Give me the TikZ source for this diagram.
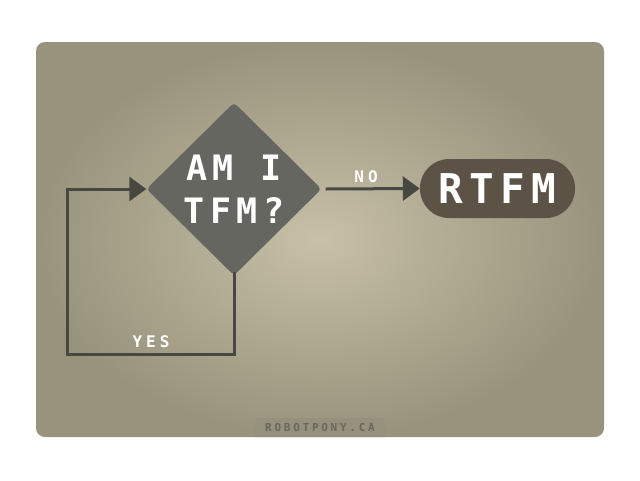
\documentclass[tikz,border=0pt]{standalone}
\usepackage{fontspec}
\usetikzlibrary{shapes.geometric,arrows.meta}
\newfontfamily\pixfont[LetterSpace=16]{DejaVu Sans Mono Bold}
\newfontfamily\pixsmall[LetterSpace=25]{DejaVu Sans Mono Bold}
\definecolor{cardin}{RGB}{200,192,167}
\definecolor{cardout}{RGB}{152,147,125}
\definecolor{diam}{RGB}{102,102,96}
\definecolor{rtfm}{RGB}{92,82,70}
\definecolor{linec}{RGB}{72,72,66}
\definecolor{wmbox}{RGB}{150,145,124}
\definecolor{wmtext}{RGB}{105,103,92}
\tikzset{
  conn/.style={draw=linec, line width=3pt},
  tip/.style={-{Triangle[length=17pt,width=24pt]}},
  lbl/.style={text=white, font=\pixsmall\fontsize{16}{16}\selectfont, inner sep=0pt},
}
\begin{document}
\begin{tikzpicture}[x=1pt,y=-1pt]
\useasboundingbox (0,0) rectangle (640,480);
\fill[white] (0,0) rectangle (640,480);
\shade[rounded corners=9pt, inner color=cardin, outer color=cardout] (36,42) rectangle (604,437);
\begin{scope}
\clip[rounded corners=9pt] (36,42) rectangle (604,437);
\node[fill=wmbox, rounded corners=5pt, minimum width=130pt, minimum height=26pt, inner sep=0pt] (wm) at (320,431) {};
\node[text=wmtext, font=\pixsmall\fontsize{11}{11}\selectfont, inner sep=0pt] (wmt) at (320,427) {ROBOTPONY.CA};
\end{scope}
\node[diamond, fill=diam, rounded corners=4pt, minimum width=175pt, minimum height=173pt, inner sep=0pt,
  text=white, align=center, font=\pixfont\fontsize{35}{43}\selectfont] (q) at (234,189) {AM I\\TFM?};
\node[fill=rtfm, rounded corners=29pt, minimum width=155pt, minimum height=59pt, inner sep=0pt,
  text=white, font=\pixfont\fontsize{41}{41}\selectfont] (r) at (497.5,188.5) {RTFM};
\draw[conn, tip] ([xshift=4pt]q.east) -- (r.west);
\node[lbl] (no) at (366,177) {NO};
\coordinate (bl) at (67,354);
\draw[conn, tip] ([yshift=4pt]q.south) |- (bl) |- (q.west);
\node[lbl] (yes) at (151,342) {YES};
\end{tikzpicture}
\end{document}
